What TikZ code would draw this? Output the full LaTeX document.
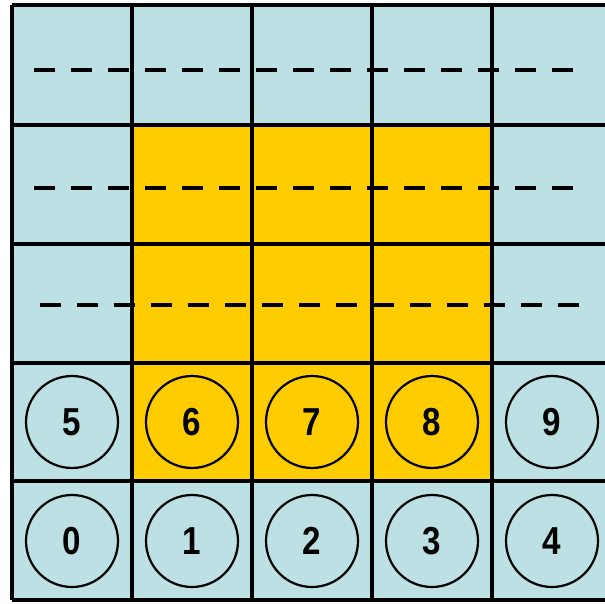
\documentclass[tikz,border=0pt]{standalone}
\usepackage{fontspec}
\setmainfont{Liberation Sans}
\newfontfamily\numfont[FakeStretch=0.85]{Liberation Sans}
\definecolor{cellblue}{RGB}{188,224,227}
\definecolor{cellyellow}{RGB}{255,204,0}
\begin{document}
\begin{tikzpicture}[x=1pt,y=-1pt,
  gridline/.style={line width=4.5pt,draw=black},
  dashline/.style={line width=4.5pt,dash pattern=on 21pt off 16pt},
  numcircle/.style={circle,draw=black,line width=2.2pt,minimum size=92pt,inner sep=0pt,
    font=\numfont\fontsize{39}{40}\selectfont\bfseries}]
\useasboundingbox (0,0) rectangle (605,604);
\clip (0,0) rectangle (605,604);
\fill[white] (0,0) rectangle (605,604);
% cells
\fill[cellblue] (12,5) rectangle (612,600);
\fill[cellyellow] (132,125) rectangle (492,481);
% dashed lines
\draw[dashline] (34,70) -- (580,70);
\draw[dashline] (34,188) -- (580,188);
\draw[dashline] (40,305) -- (580,305);
% grid
\foreach \x in {12,132,252,372,492,612} \draw[gridline] (\x,5) -- (\x,600);
\foreach \y in {5,125,244,363,481,600} \draw[gridline] (12,\y) -- (612,\y);
% circles
\node[numcircle] (c5) at (72,422) {5};
\node[numcircle] (c6) at (192,422) {6};
\node[numcircle] (c7) at (312,422) {7};
\node[numcircle] (c8) at (432,422) {8};
\node[numcircle] (c9) at (552,422) {9};
\node[numcircle] (c0) at (72,541) {0};
\node[numcircle] (c1) at (192,541) {1};
\node[numcircle] (c2) at (312,541) {2};
\node[numcircle] (c3) at (432,541) {3};
\node[numcircle] (c4) at (552,541) {4};
\end{tikzpicture}
\end{document}
